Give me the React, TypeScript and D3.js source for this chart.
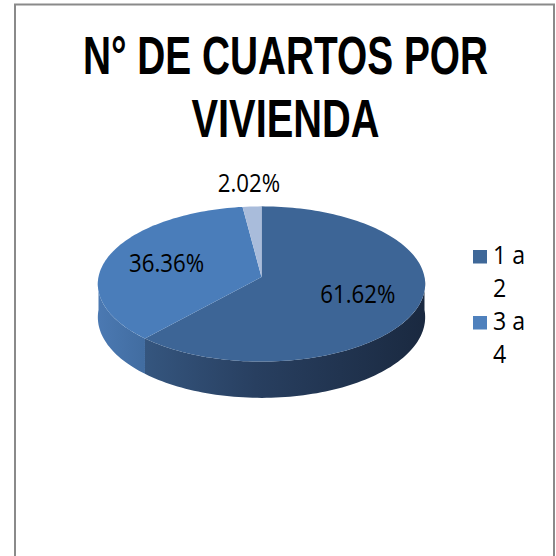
import React from "react";
import * as d3 from "d3";

const title = ["N° DE CUARTOS POR", "VIVIENDA"];
const categories = ["1 a 2", "3 a 4", "5 a más"];
const percentages = [61.62, 36.36, 2.02];
const topColors = ["#3d6596", "#4a7dba", "#a9bcdb"];
const legendColors = ["#3f6898", "#4f81bd", "#a9bcdb"];
// the legend in the reference is clipped after its second entry
const legendShown = 2;

const W = 556;
const H = 556;
const CX = 261.5;
const CY = 277;
const R = 163;
const RS = 77; // vertical radius factor (tilt)
const K = 0.09; // perspective
const DEPTH = 33;
const SX = 0.89; // horizontal squeeze of the text in the reference

function proj(theta: number, h: number, r = 1): [number, number] {
  const X = Math.sin(theta) * r;
  const Z = -Math.cos(theta) * r;
  const f = 1 / (1 - K * Z);
  return [CX + X * R * f, CY + (Z * RS + h) * f];
}

function arcPoints(a0: number, a1: number, h: number): [number, number][] {
  const n = Math.max(2, Math.ceil(((a1 - a0) / (Math.PI * 2)) * 240));
  const pts: [number, number][] = [];
  for (let i = 0; i <= n; i++) pts.push(proj(a0 + ((a1 - a0) * i) / n, h));
  return pts;
}

export default function App() {
  const pie = d3
    .pie<number>()
    .sort(null)
    .startAngle(0)
    .endAngle(Math.PI * 2)(percentages);
  const line = d3.line();

  const walls = pie
    .map((a, i) => {
      const a0 = Math.max(a.startAngle, Math.PI / 2);
      const a1 = Math.min(a.endAngle, (Math.PI * 3) / 2);
      if (a0 >= a1) return null;
      const pts = [...arcPoints(a0, a1, 0), ...arcPoints(a0, a1, DEPTH).reverse()];
      return { i, d: line(pts) + "Z" };
    })
    .filter(Boolean) as { i: number; d: string }[];

  const tops = pie.map((a, i) => {
    const pts: [number, number][] = [[CX, CY], ...arcPoints(a.startAngle, a.endAngle, 0)];
    return { i, d: line(pts) + "Z" };
  });

  const labels = pie.map((a, i) => {
    const mid = (a.startAngle + a.endAngle) / 2;
    const outside = a.endAngle - a.startAngle < 0.3;
    const [x, y] = proj(mid, 0, outside ? 1.37 : 0.62);
    return { x, y, text: percentages[i].toFixed(2) + "%" };
  });

  const fontLabel = "'Open Sans', 'Noto Sans', sans-serif";

  return (
    <svg
      width={W}
      height={H}
      style={{ position: "fixed", left: 0, top: 0, background: "#ffffff" }}
    >
      <defs>
        <linearGradient id="wall0" gradientUnits="userSpaceOnUse" x1={143} y1={0} x2={425} y2={0}>
          <stop offset="0" stopColor="#35567f" />
          <stop offset="0.4" stopColor="#283f60" />
          <stop offset="1" stopColor="#1a2940" />
        </linearGradient>
        <linearGradient id="wall1" gradientUnits="userSpaceOnUse" x1={98} y1={0} x2={146} y2={0}>
          <stop offset="0" stopColor="#4b79b2" />
          <stop offset="1" stopColor="#416ca0" />
        </linearGradient>
        <linearGradient id="wall2" gradientUnits="userSpaceOnUse" x1={98} y1={0} x2={146} y2={0}>
          <stop offset="0" stopColor="#9aaccb" />
          <stop offset="1" stopColor="#8a9cbb" />
        </linearGradient>
      </defs>
      <rect x={0} y={0} width={W} height={H} fill="#ffffff" />
      <rect x={15} y={4.5} width={539} height={620} fill="none" stroke="#8a8a8a" strokeWidth={2} />

      {title.map((t, i) => (
        <text
          key={t}
          x={285.5}
          y={73.5 + i * 63}
          textAnchor="middle"
          fontFamily="'Liberation Sans Narrow', 'Arial Narrow', 'Liberation Sans', Arial, sans-serif"
          fontWeight="bold"
          fontSize={54}
          fill="#000"
          textLength={i === 0 ? 405 : 188}
          lengthAdjust="spacingAndGlyphs"
        >
          {t}
        </text>
      ))}

      {walls.map((w) => (
        <path key={"w" + w.i} d={w.d} fill={`url(#wall${w.i})`} />
      ))}
      {tops.map((t) => (
        <path key={"t" + t.i} d={t.d} fill={topColors[t.i]} />
      ))}

      {labels.map((l) => (
        <g key={l.text} transform={`translate(${l.x},${l.y}) scale(${SX},1)`}>
          <text
            x={0}
            y={0}
            dy="0.36em"
            textAnchor="middle"
            fontFamily={fontLabel}
            fontSize={25}
            fill="#000"
          >
            {l.text}
          </text>
        </g>
      ))}

      {categories.slice(0, legendShown).map((c, i) => {
        const parts = c.split(" ");
        const line1 = parts.slice(0, 2).join(" ");
        const line2 = parts.slice(2).join(" ");
        const y0 = 264 + i * 66;
        return (
          <g key={c}>
            <rect x={473} y={y0 - 14} width={14} height={13.5} fill={legendColors[i]} />
            <g transform={`translate(493,${y0}) scale(${SX},1)`}>
              <text x={0} y={0} fontFamily={fontLabel} fontSize={26} fill="#000">
                {line1}
              </text>
              <text x={0} y={33} fontFamily={fontLabel} fontSize={26} fill="#000">
                {line2}
              </text>
            </g>
          </g>
        );
      })}
    </svg>
  );
}
